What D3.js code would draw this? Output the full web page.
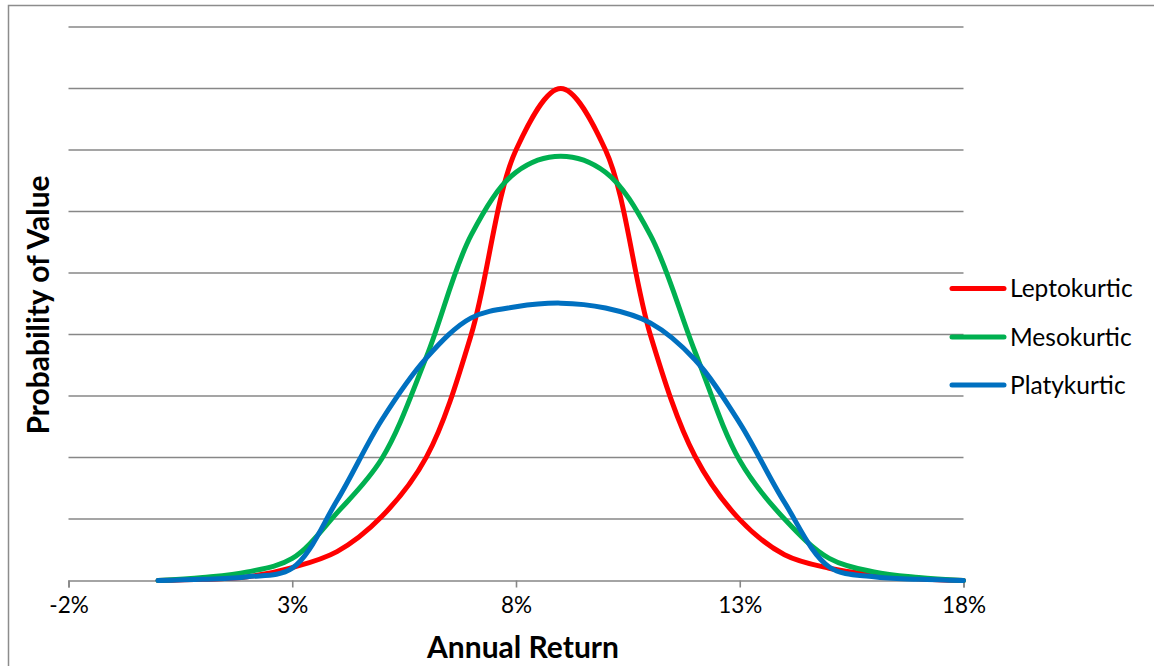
<!DOCTYPE html>
<html>
<head>
<meta charset="utf-8">
<script src="https://cdn.jsdelivr.net/npm/d3@7"></script>
<style>
  html, body { margin: 0; padding: 0; background: #fff; }
  svg { display: block; }
  text { font-family: Lato, "Open Sans", sans-serif; fill: #000; }
</style>
</head>
<body>
<svg id="chart" width="1154" height="666"></svg>
<script>
// ---- data ----
const returns = [0, 1, 2, 3, 4, 5, 6, 7, 8, 9, 10, 11, 12, 13, 14, 15, 16, 17, 18]; // annual return, %
const leptokurtic = [0, 0.1, 0.3, 1.05, 2.35, 5.2, 10.05, 20, 35, 40, 35, 20, 10.1, 4.95, 2.1, 1.0, 0.45, 0.15, 0];
const mesokurtic  = [0, 0.25, 0.7, 1.8, 5.5, 9.9, 18.2, 28.1, 33.2, 34.5, 33.2, 28.1, 18.6, 9.75, 5.0, 1.8, 0.7, 0.25, 0];
const platykurtic = [0, 0.1, 0.3, 1.0, 6.5, 13.05, 18.1, 21.35, 22.25, 22.55, 22.15, 20.95, 17.95, 12.8, 6.35, 1.1, 0.3, 0.1, 0];
const seriesNames = ["Leptokurtic", "Mesokurtic", "Platykurtic"];
const seriesColors = ["#FF0000", "#00B050", "#0070C0"];
const xTicks = [-2, 3, 8, 13, 18];
const yGrid = [0, 5, 10, 15, 20, 25, 30, 35, 40, 45];

const svg = d3.select("#chart");

// outer chart frame
svg.append("rect")
  .attr("x", 8.5).attr("y", 5.5).attr("width", 1150).attr("height", 670)
  .attr("fill", "none").attr("stroke", "#8c8c8c").attr("stroke-width", 1.5);

const x = d3.scaleLinear().domain([-2, 18]).range([68.5, 963.5]);
const y = d3.scaleLinear().domain([0, 45]).range([580.5, 27]);

// gridlines
svg.append("g").selectAll("line")
  .data(yGrid.filter(v => v > 0))
  .join("line")
  .attr("x1", x(-2)).attr("x2", x(18))
  .attr("y1", d => y(d)).attr("y2", d => y(d))
  .attr("stroke", "#878787").attr("stroke-width", 1.6);

// x axis
const xAxis = d3.axisBottom(x).tickValues(xTicks).tickSize(7).tickFormat(d => d + "%");
const gx = svg.append("g").attr("transform", `translate(0,${y(0)})`).call(xAxis);
gx.select(".domain").attr("stroke", "#878787").attr("stroke-width", 1.6);
gx.selectAll(".tick line").attr("stroke", "#878787").attr("stroke-width", 1.6);
gx.selectAll(".tick text")
  .attr("y", 32).attr("dy", 0)
  .style("font-family", "Lato, 'Open Sans', sans-serif")
  .style("font-size", "22.5px").attr("fill", "#000");

// series lines
const allSeries = [leptokurtic, mesokurtic, platykurtic];
const line = d3.line()
  .x((d, i) => x(returns[i]))
  .y(d => y(d))
  .curve(d3.curveCatmullRom.alpha(0.5));

svg.append("g").selectAll("path")
  .data(allSeries)
  .join("path")
  .attr("d", d => line(d))
  .attr("fill", "none")
  .attr("stroke", (d, i) => seriesColors[i])
  .attr("stroke-width", 5)
  .attr("stroke-linejoin", "round")
  .attr("stroke-linecap", "round");

// axis titles
svg.append("text")
  .attr("x", 523).attr("y", 658)
  .attr("text-anchor", "middle")
  .style("font-size", "30px").style("font-weight", "bold")
  .text("Annual Return");

svg.append("text")
  .attr("transform", "translate(49,305) rotate(-90)")
  .attr("text-anchor", "middle")
  .style("font-size", "30px").style("font-weight", "bold")
  .text("Probability of Value");

// legend
const legend = svg.append("g");
const legendY = [288.5, 337, 385];
seriesNames.forEach((name, i) => {
  legend.append("line")
    .attr("x1", 952).attr("x2", 1004)
    .attr("y1", legendY[i]).attr("y2", legendY[i])
    .attr("stroke", seriesColors[i]).attr("stroke-width", 5)
    .attr("stroke-linecap", "round");
  legend.append("text")
    .attr("x", 1010).attr("y", legendY[i] + 8.5)
    .style("font-size", "24.5px")
    .text(name);
});
</script>
</body>
</html>
